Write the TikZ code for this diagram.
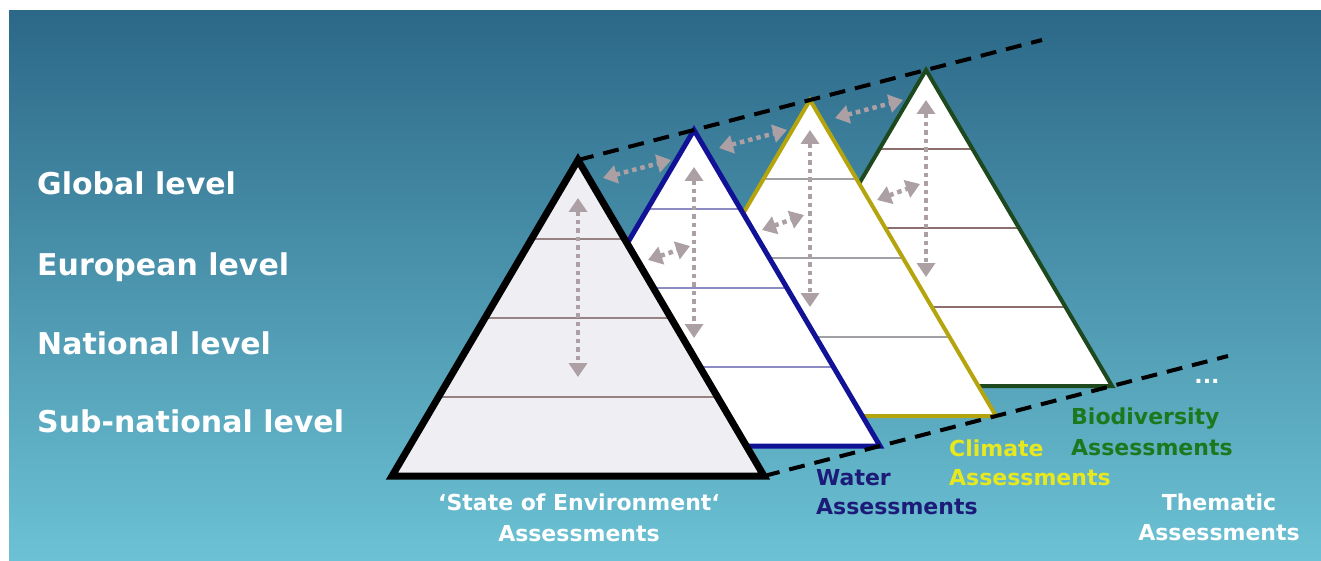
\documentclass[tikz,border=0pt]{standalone}
\usepackage{fontspec}
\setmainfont{DejaVu Sans}
\usetikzlibrary{arrows.meta,calc}

\definecolor{bgtop}{RGB}{44,104,136}
\definecolor{bgmid}{RGB}{74,150,172}
\definecolor{bgbot}{RGB}{108,194,212}
\definecolor{soefill}{RGB}{239,238,243}
\definecolor{soelayer}{RGB}{150,130,130}
\definecolor{waterblue}{RGB}{18,18,150}
\definecolor{waterlayer}{RGB}{140,140,195}
\definecolor{waterlabel}{RGB}{28,28,120}
\definecolor{climateline}{RGB}{180,165,15}
\definecolor{climatelayer}{RGB}{160,160,165}
\definecolor{climatelabel}{RGB}{232,232,30}
\definecolor{bioline}{RGB}{30,72,30}
\definecolor{biolayer}{RGB}{140,110,110}
\definecolor{biolabel}{RGB}{28,120,28}
\definecolor{linkgray}{RGB}{172,160,165}

\begin{document}
\begin{tikzpicture}[x=1pt, y=-1pt,
  level/.style={text=white, font=\bfseries\fontsize{30}{36}\selectfont, anchor=base west, inner sep=0pt},
  caption/.style={font=\bfseries\fontsize{22}{28}\selectfont, anchor=base, inner sep=0pt},
  layer/.style={line width=1.5pt},
  guide/.style={line width=4pt, dash pattern=on 16pt off 10pt},
  link/.style={linkgray, line width=4.5pt, dash pattern=on 4.5pt off 4pt,
    {Triangle[length=14pt,width=18pt]}-{Triangle[length=14pt,width=18pt]}},
]
\useasboundingbox (0,0) rectangle (1321,561);
\shade[top color=bgtop, middle color=bgmid, bottom color=bgbot] (9,11) rectangle (1321,561);

% apexes and base corners, one step back = (116,-30)
\coordinate (soeTop) at (578,160);
\coordinate (waterTop) at (694,130);
\coordinate (climateTop) at (810,100);
\coordinate (bioTop) at (926,70);
\coordinate (moreTop) at (1042,40);
\coordinate (soeBase) at (764,476);
\coordinate (moreBase) at (1228,356);

% Biodiversity
\fill[white] (bioTop) -- ++(-186,316) -- ++(372,0) -- cycle;
\draw[layer, biolayer] ($(bioTop)+(-46.5,79)$) -- ++(93,0);
\draw[layer, biolayer] ($(bioTop)+(-93,158)$) -- ++(186,0);
\draw[layer, biolayer] ($(bioTop)+(-139.5,237)$) -- ++(279,0);
\draw[bioline, line width=4pt] (bioTop) -- ++(-186,316) -- ++(372,0) -- cycle;
\draw[link] ($(bioTop)+(0,30)$) -- ($(bioTop)+(0,207)$);
\draw[link] ($(bioTop)+(-49,130)$) -- ($(bioTop)+(-6,114)$);
\draw[link] ($(climateTop)+(25,18)$) -- ($(climateTop)+(93,0)$);

% Climate
\fill[white] (climateTop) -- ++(-186,316) -- ++(372,0) -- cycle;
\draw[layer, climatelayer] ($(climateTop)+(-46.5,79)$) -- ++(93,0);
\draw[layer, climatelayer] ($(climateTop)+(-93,158)$) -- ++(186,0);
\draw[layer, climatelayer] ($(climateTop)+(-139.5,237)$) -- ++(279,0);
\draw[climateline, line width=4pt] (climateTop) -- ++(-186,316) -- ++(372,0) -- cycle;
\draw[link] ($(climateTop)+(0,30)$) -- ($(climateTop)+(0,207)$);
\draw[link] ($(climateTop)+(-48,130)$) -- ($(climateTop)+(-6,115)$);
\draw[link] ($(waterTop)+(25,18)$) -- ($(waterTop)+(93,0)$);

% Water
\fill[white] (waterTop) -- ++(-186,316) -- ++(372,0) -- cycle;
\draw[layer, waterlayer] ($(waterTop)+(-46.5,79)$) -- ++(93,0);
\draw[layer, waterlayer] ($(waterTop)+(-93,158)$) -- ++(186,0);
\draw[layer, waterlayer] ($(waterTop)+(-139.5,237)$) -- ++(279,0);
\draw[waterblue, line width=5pt] (waterTop) -- ++(-186,316) -- ++(372,0) -- cycle;
\draw[link] ($(waterTop)+(0,37)$) -- ($(waterTop)+(0,208)$);
\draw[link] ($(waterTop)+(-46,130)$) -- ($(waterTop)+(-4,116)$);
\draw[link] ($(soeTop)+(25,18)$) -- ($(soeTop)+(93,0)$);

% State of Environment
\fill[soefill] (soeTop) -- ++(-186,316) -- ++(372,0) -- cycle;
\draw[layer, soelayer] ($(soeTop)+(-46.5,79)$) -- ++(93,0);
\draw[layer, soelayer] ($(soeTop)+(-93,158)$) -- ++(186,0);
\draw[layer, soelayer] ($(soeTop)+(-139.5,237)$) -- ++(279,0);
\draw[black, line width=7pt] (soeTop) -- ++(-186,316) -- ++(372,0) -- cycle;
\draw[link] ($(soeTop)+(0,38)$) -- ($(soeTop)+(0,217)$);

\draw[guide] (soeTop) -- (moreTop);
\draw[guide] (soeBase) -- (moreBase);

\node[level] (global) at (37,195) {Global level};
\node[level] (european) at (37,275) {European level};
\node[level] (national) at (37,354) {National level};
\node[level] (subnational) at (37,432) {Sub-national level};

\node[caption, text=white] (soeA) at (579,510) {‘State of Environment‘};
\node[caption, text=white] (soeB) at (579,541) {Assessments};
\node[caption, text=waterlabel, anchor=base west] (waterA) at (816,485) {Water};
\node[caption, text=waterlabel, anchor=base west] (waterB) at (816,514) {Assessments};
\node[caption, text=climatelabel, anchor=base west] (climateA) at (949,456) {Climate};
\node[caption, text=climatelabel, anchor=base west] (climateB) at (949,485) {Assessments};
\node[caption, text=biolabel, anchor=base west] (bioA) at (1071,424) {Biodiversity};
\node[caption, text=biolabel, anchor=base west] (bioB) at (1071,455) {Assessments};
\node[caption, text=white] (themeA) at (1219,510) {Thematic};
\node[caption, text=white] (themeB) at (1219,540) {Assessments};
\node[caption, text=white] (more) at (1207,383) {...};
\end{tikzpicture}
\end{document}
